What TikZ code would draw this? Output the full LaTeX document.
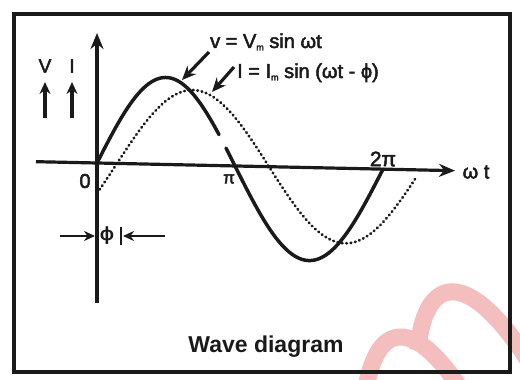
\documentclass[tikz,border=0pt]{standalone}
\usepackage{fontspec}
\setmainfont{Liberation Sans}
\newfontfamily\heavy[FakeBold=2.5]{Liberation Sans}
\usetikzlibrary{arrows.meta}
\definecolor{ink}{HTML}{1A1A1A}
\definecolor{wm}{HTML}{F4BEBE}
\newcommand{\subm}{\raisebox{-0.12em}{\fontsize{9}{9}\selectfont m}}
\begin{document}
\begin{tikzpicture}[x=1pt,y=1pt,
  lbl/.style={inner sep=0pt, text=ink, font=\heavy\fontsize{20}{20}\selectfont},
  bigarrow/.style={draw=ink, line width=3.2pt, -{Stealth[length=14pt,width=12pt]}},
  uparrow/.style={draw=ink, line width=3.2pt, -{Stealth[length=12pt,width=11pt]}},
  smallarrow/.style={draw=ink, line width=2.8pt, -{Stealth[length=11pt,width=10pt]}},
  axisline/.style={draw=ink, line width=3.2pt, -{Stealth[length=16pt,width=13pt]}},
  wave/.style={draw=ink, line width=3.5pt, line cap=round},
  dotwave/.style={draw=ink, line width=2.8pt, line cap=round, dash pattern=on 0.6pt off 3.8pt},
  wmstroke/.style={draw=wm, line width=17pt}]
\useasboundingbox (0,0) rectangle (520,380);
% watermark
\draw[wmstroke] (366,-8) .. controls (378,60) and (415,60) .. (460,-8);
\draw[wmstroke] (418,30) .. controls (425,112) and (475,112) .. (540,0);
% frame
\draw[ink, line width=3.4pt] (14,8) rectangle (510,366);
% axes and curves
\begin{scope}[shift={(97,217)}, yslant=-0.0215]
  \coordinate (ybot) at (0,-140);
  \coordinate (ytop) at (0,130);
  \coordinate (xl) at (-61,0);
  \coordinate (xr) at (358,0);
  \draw[axisline] (ybot) -- (ytop);
  \draw[axisline] (xl) -- (xr);
  \draw[dotwave] plot[domain=0:318, samples=160] (\x, {75*sin((\x-20)/304*360)});
  \draw[wave] plot[domain=0:122, samples=60] (\x, {87*sin(\x/138*180)});
  \draw[wave] plot[domain=129:138, samples=6] (\x, {87*sin(\x/138*180)})
     -- plot[domain=138:286, samples=80] (\x, {-93*sin((\x-138)/148*180)});
\end{scope}
% labels
\node[lbl, anchor=base west] (veq) at (210,332) {v = V\subm{} sin ωt};
\node[lbl, anchor=base west] (ieq) at (237,302) {I = I\subm{} sin (ωt - ϕ)};
\coordinate (va0) at (209,328);
\coordinate (va1) at (182,300);
\coordinate (ia0) at (234,313);
\coordinate (ia1) at (212,288);
\draw[bigarrow] (va0) -- (va1);
\draw[bigarrow] (ia0) -- (ia1);
\node[lbl, font=\heavy\fontsize{19}{19}\selectfont] (Vl) at (45,314) {V};
\node[lbl, font=\heavy\fontsize{19}{19}\selectfont] (Il) at (72,314) {I};
\coordinate (vb) at (45,262);
\coordinate (vt) at (45,298);
\coordinate (ib) at (72,262);
\coordinate (it) at (72,298);
\draw[uparrow] (vb) -- (vt);
\draw[uparrow] (ib) -- (it);
\node[lbl] (zero) at (85,199) {0};
\node[lbl, font=\heavy\fontsize{17}{17}\selectfont] (pi) at (229,201) {π};
\node[lbl, font=\heavy\fontsize{21}{21}\selectfont] (twopi) at (383,221) {2π};
\node[lbl] (wt) at (476,208) {ω t};
% phase marker
\coordinate (pl0) at (60,144);
\coordinate (pl1) at (95,144);
\coordinate (pr0) at (165,144);
\coordinate (pr1) at (123,144);
\coordinate (bt) at (121,153);
\coordinate (bb) at (121,135);
\draw[smallarrow] (pl0) -- (pl1);
\draw[smallarrow] (pr0) -- (pr1);
\draw[ink, line width=2.8pt] (bb) -- (bt);
\node[lbl, font=\bfseries\fontsize{19}{19}\selectfont] (phi) at (107,144) {ϕ};
% caption
\node[lbl, anchor=base, font=\bfseries\fontsize{23}{23}\selectfont] (cap) at (266,27) {Wave diagram};
\end{tikzpicture}
\end{document}
